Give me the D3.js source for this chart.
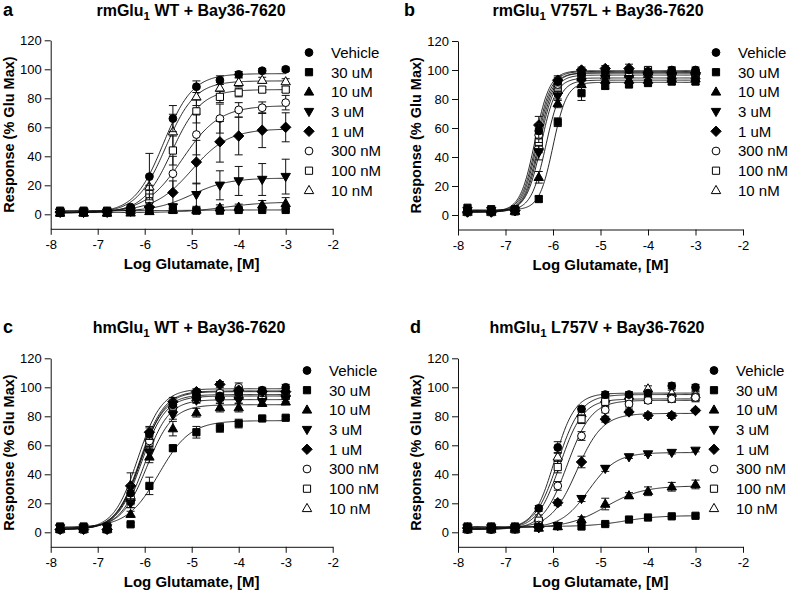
<!DOCTYPE html>
<html><head><meta charset="utf-8">
<script src="https://cdn.jsdelivr.net/npm/d3@7"></script>
<style>
body{margin:0;background:#fff}
svg{display:block}
text{font-family:"Liberation Sans",Arial,Helvetica,sans-serif;fill:#000}
</style>
</head><body>
<svg id="chart" width="788" height="591"></svg>
<script>
// ---------- data ----------
const logConc = [-7.8, -7.3, -6.8, -6.3, -5.9, -5.4, -4.9, -4.4, -4.0, -3.5, -3.0];
const seriesLabels = ["Vehicle", "30 uM", "10 uM", "3 uM", "1 uM", "300 nM", "100 nM", "10 nM"];
const xTicks = [-8, -7, -6, -5, -4, -3, -2];
const yTicks = [0, 20, 40, 60, 80, 100, 120];
const xDomain = [-8, -2];
const yDomain = [-10, 120];
const panelLetters = ["a", "b", "c", "d"];
const titleMain = ["rmGlu", "rmGlu", "hmGlu", "hmGlu"];
const titleSub = ["1", "1", "1", "1"];
const titleRest = [" WT + Bay36-7620", " V757L + Bay36-7620", " WT + Bay36-7620", " L757V + Bay36-7620"];
const xLabel = "Log Glutamate, [M]";
const yLabel = "Response (% Glu Max)";

// panel a: rmGlu1 WT
const aMean = [
  [1, 1, 1.5, 5, 26, 66, 88, 92.5, 96.5, 99, 100],
  [2.5, 2.5, 2.5, 2.5, 2.5, 3, 2.5, 2.5, 3, 3, 3],
  [1, 1, 1, 1, 2, 3, 3, 4.5, 5, 6.5, 7.5],
  [1.5, 1.5, 1.5, 2, 3, 5, 13.5, 20, 23, 24, 26],
  [1.5, 1.5, 1.5, 2.5, 5, 15, 36, 50, 54, 58, 60],
  [1, 1, 1, 2.5, 9, 28, 55, 66, 72, 73.5, 77],
  [1, 1.5, 1, 3, 14, 44, 71, 81, 84, 86, 86],
  [1, 1, 1, 2.5, 19, 57, 81, 87, 91, 92.5, 91.5]
];
const aSem = [
  [0.5, 0.5, 0.5, 1, 16, 9, 4, 3, 2, 1.5, 1.5],
  [0.5, 0.5, 0.5, 0.5, 0.5, 1, 1, 1, 1, 1, 1],
  [0.5, 0.5, 0.5, 0.5, 1, 1, 1, 2, 2, 3, 4],
  [0.5, 0.5, 0.5, 1, 1, 2, 8, 10, 10, 11, 12],
  [0.5, 0.5, 0.5, 1, 3, 8, 15, 14, 13, 12, 10],
  [0.5, 0.5, 0.5, 1, 5, 12, 14, 10, 5, 4, 5],
  [0.5, 0.5, 0.5, 2, 6, 10, 8, 4, 3, 2, 2],
  [0.5, 0.5, 0.5, 2, 8, 12, 6, 4, 3, 2, 2]
];
// fit parameters: bottom, top, logEC50, hill
const aFit = [
  [1, 97, -5.6, 1.4],
  [2.5, 3, -5.0, 1],
  [1.2, 8.5, -4.3, 1],
  [2, 25, -5.0, 1.1],
  [2, 59, -5.0, 1.1],
  [1, 75, -5.2, 1.1],
  [1, 86, -5.42, 1.4],
  [1, 92, -5.55, 1.4]
];

// panel b: rmGlu1 V757L
const bMean = [
  [3, 2.5, 3, 58, 92, 97, 99, 100, 99, 100, 100],
  [5, 4, 4, 11, 64, 84, 89, 90, 91, 92, 92],
  [3, 3, 3, 26, 77, 90, 93, 93, 93, 94, 94],
  [3, 3, 3, 43, 82, 92, 94, 94, 95, 95, 95],
  [2, 2, 3, 62, 93, 100, 101, 101, 98, 98, 98],
  [2, 2, 2.5, 55, 90, 96, 97, 98, 99, 99, 98],
  [2, 2, 2.5, 50, 88, 96, 97, 98, 100, 97, 97],
  [2, 2, 2.5, 48, 86, 95, 96, 97, 97, 96, 96]
];
const bSem = [
  [1, 1, 1, 5, 3, 2, 2, 2, 2, 2, 2],
  [1, 1, 1, 2, 3, 5, 2, 2, 2, 2, 2],
  [1, 1, 1, 4, 3, 2, 2, 2, 2, 2, 2],
  [1, 1, 1, 5, 3, 2, 2, 2, 2, 2, 2],
  [1, 1, 1, 6, 3, 2, 2, 3, 2, 2, 2],
  [1, 1, 1, 5, 3, 2, 2, 2, 2, 3, 2],
  [1, 1, 1, 5, 3, 2, 2, 2, 2, 2, 2],
  [1, 1, 1, 5, 3, 2, 2, 2, 2, 2, 2]
];
const bFit = [
  [2.5, 99, -6.35, 2.8],
  [3.5, 91.5, -6.0, 3],
  [3, 93, -6.15, 2.8],
  [3, 94.5, -6.25, 2.8],
  [2.5, 99.5, -6.38, 2.8],
  [2, 98, -6.33, 2.8],
  [2, 98, -6.3, 2.8],
  [2, 96.5, -6.28, 2.8]
];

// panel c: hmGlu1 WT
const cMean = [
  [2, 2, 2, 27, 68, 88, 95, 94, 96, 98, 100],
  [4, 4, 4, 5.5, 32, 58, 69, 72, 75, 78.5, 79],
  [3, 3, 3, 12.5, 52, 71.5, 82.5, 86, 86, 89, 90],
  [3, 3, 3, 20, 55, 81, 91, 91, 91, 90, 92],
  [2, 2, 2, 32, 69, 90, 97, 102, 98, 97, 97],
  [2, 2, 2, 24, 63, 86, 93, 96, 100, 96, 95],
  [2, 2, 2, 22, 62, 87, 92, 93, 95, 94, 94],
  [2, 2, 2, 25, 65, 88, 93, 94, 94, 95, 96]
];
const cSem = [
  [1, 1, 1, 6, 4, 3, 2, 2, 2, 2, 2],
  [1, 1, 1, 1, 6, 2, 4, 3, 3, 1, 1],
  [1, 1, 1, 2, 4, 5, 3, 3, 3, 2, 2],
  [1, 1, 1, 3, 4, 3, 2, 2, 2, 2, 2],
  [1, 1, 1, 9, 4, 3, 2, 2, 2, 2, 2],
  [1, 1, 1, 5, 4, 3, 2, 2, 3, 2, 2],
  [1, 1, 1, 5, 4, 3, 2, 2, 2, 2, 2],
  [1, 1, 1, 5, 4, 3, 2, 2, 2, 2, 2]
];
const cFit = [
  [2, 97.5, -6.1, 1.7],
  [3.5, 77, -5.7, 1.3],
  [3, 88, -5.95, 1.6],
  [3, 91.5, -6.0, 1.7],
  [2, 99, -6.15, 1.7],
  [2, 97, -6.08, 1.7],
  [2, 94, -6.07, 1.7],
  [2, 95, -6.1, 1.7]
];

// panel d: hmGlu1 L757V
const dMean = [
  [2, 2, 2.5, 16.5, 58.5, 85, 95, 95, 96, 101, 100],
  [4, 4, 4, 3.5, 4.3, 4, 5.7, 8.8, 10.2, 11, 11.4],
  [3, 3, 3, 3, 4, 8.8, 19.5, 25.3, 28.3, 31.4, 33],
  [3, 3, 3, 3, 4.5, 23.2, 44, 52, 54, 55, 56.5],
  [3, 3, 3, 3.5, 20.4, 48.5, 78, 83, 80.5, 80.5, 84],
  [2, 2, 2, 5, 32, 66.4, 84.4, 88.5, 91, 92, 93],
  [2, 2, 2, 8, 45, 78, 90, 92, 92, 92.5, 93],
  [2, 2, 2, 10, 52, 82, 92, 94, 99, 96, 95]
];
const dSem = [
  [1, 1, 1, 2, 4, 2, 2, 2, 2, 2, 2],
  [0.5, 0.5, 0.5, 0.5, 0.5, 0.5, 1, 1, 1, 1, 1],
  [0.5, 0.5, 0.5, 0.5, 1, 2, 4, 2, 3, 3, 3],
  [0.5, 0.5, 0.5, 0.5, 1, 2, 2, 1, 1, 1, 1],
  [0.5, 0.5, 0.5, 1, 2, 4, 2, 2, 2, 2, 1],
  [1, 1, 1, 2, 3, 3, 2, 2, 2, 2, 2],
  [1, 1, 1, 2, 4, 3, 3, 2, 3, 3, 3],
  [1, 1, 1, 2, 3, 3, 2, 2, 2, 2, 2]
];
const dFit = [
  [2.5, 96, -5.97, 2],
  [4, 11.5, -4.5, 1.2],
  [3, 32, -4.9, 1.1],
  [3, 55, -5.25, 1.5],
  [3, 82, -5.5, 1.6],
  [2, 91, -5.7, 1.7],
  [2, 92, -5.85, 1.8],
  [2, 95, -5.9, 1.8]
];

// ---------- styles / layout ----------
const markerShape = ["circle", "square", "triUp", "triDown", "diamond", "circle", "square", "triUp"];
const markerFilled = [true, true, true, true, true, false, false, false];

const panels = [
  {mean: aMean, sem: aSem, fit: aFit, xr: [50.7, 332.7], yr: [228.8, 40.3], letterX: 3, titleX: 191, titleY: 16, legX: 309, legY: 52.5},
  {mean: bMean, sem: bSem, fit: bFit, xr: [458, 743], yr: [229.5, 41], letterX: 404, titleX: 598, titleY: 16, legX: 716, legY: 52.5},
  {mean: cMean, sem: cSem, fit: cFit, xr: [50.7, 332.7], yr: [546.8, 358.3], letterX: 3, titleX: 189, titleY: 333, legX: 307, legY: 370.5},
  {mean: dMean, sem: dSem, fit: dFit, xr: [458, 743], yr: [546.8, 358.3], letterX: 410, titleX: 597, titleY: 333, legX: 714, legY: 370.5}
];
const legendStep = 19.7;

function symPath(shape) {
  const r = 3.9, h = 3.6;
  switch (shape) {
    case "circle": return `M${r},0A${r},${r} 0 1,1 ${-r},0A${r},${r} 0 1,1 ${r},0Z`;
    case "square": return `M${-h},${-h}H${h}V${h}H${-h}Z`;
    case "triUp": return "M0,-5L4.7,3.2L-4.7,3.2Z";
    case "triDown": return "M0,5L4.7,-3.2L-4.7,-3.2Z";
    case "diamond": return "M0,-5.2L5.2,0L0,5.2L-5.2,0Z";
  }
}
function logistic(p, x) {
  return p[0] + (p[1] - p[0]) / (1 + Math.pow(10, (p[2] - x) * p[3]));
}

const svg = d3.select("#chart");
const fitGrid = d3.range(logConc[0], logConc[logConc.length - 1] + 1e-9, 0.02);

panels.forEach((P, pi) => {
  const x = d3.scaleLinear().domain(xDomain).range(P.xr);
  const y = d3.scaleLinear().domain(yDomain).range(P.yr);
  const g = svg.append("g");

  // panel letter and title
  g.append("text").attr("x", P.letterX).attr("y", P.titleY)
    .attr("font-size", 18).attr("font-weight", "bold").text(panelLetters[pi]);
  const t = g.append("text").attr("x", P.titleX).attr("y", P.titleY)
    .attr("text-anchor", "middle").attr("font-size", 16).attr("font-weight", "bold");
  t.append("tspan").text(titleMain[pi]);
  t.append("tspan").attr("font-size", 11.5).attr("dy", 4).text(titleSub[pi]);
  t.append("tspan").attr("dy", -4).text(titleRest[pi]);

  // axes
  const xAxis = d3.axisBottom(x).tickValues(xTicks).tickFormat(d3.format("d"))
    .tickSize(6).tickSizeOuter(0).tickPadding(5);
  const yAxis = d3.axisLeft(y).tickValues(yTicks).tickFormat(d3.format("d"))
    .tickSize(6).tickSizeOuter(0).tickPadding(3);
  const gx = g.append("g").attr("transform", `translate(0,${y(yDomain[0])})`).call(xAxis);
  const gy = g.append("g").attr("transform", `translate(${x(xDomain[0])},0)`).call(yAxis);
  [gx, gy].forEach(a => {
    a.selectAll("path,line").attr("stroke", "#111").attr("stroke-width", 1);
    a.selectAll("text").attr("font-size", 13).attr("fill", "#222")
      .attr("font-family", "'Liberation Sans',Arial,sans-serif");
  });
  gx.selectAll("text").text(d => d < 0 ? "-" + Math.abs(d) : d);

  // axis titles
  g.append("text").attr("x", (P.xr[0] + P.xr[1]) / 2).attr("y", y(yDomain[0]) + 40)
    .attr("text-anchor", "middle").attr("font-size", 15).attr("font-weight", "bold").text(xLabel);
  const ly = (P.yr[0] + P.yr[1]) / 2, lx = x(xDomain[0]) - 37;
  g.append("text").attr("transform", `translate(${lx},${ly}) rotate(-90)`)
    .attr("text-anchor", "middle").attr("font-size", 14.5).attr("font-weight", "bold").text(yLabel);

  // fitted curves
  const line = d3.line().x(d => x(d[0])).y(d => y(d[1]));
  P.fit.forEach(p => {
    g.append("path").datum(fitGrid.map(v => [v, logistic(p, v)]))
      .attr("d", line).attr("fill", "none").attr("stroke", "#111").attr("stroke-width", 0.9);
  });

  // error bars and markers (last series first so Vehicle sits on top)
  const order = d3.range(seriesLabels.length).reverse();
  order.forEach(si => {
    const sg = g.append("g");
    logConc.forEach((lc, i) => {
      const m = P.mean[si][i], e = P.sem[si][i];
      const cx = x(lc), y1 = y(m + e), y2 = y(m - e);
      if (e >= 1) {
        sg.append("line").attr("x1", cx).attr("x2", cx).attr("y1", y1).attr("y2", y2)
          .attr("stroke", "#111").attr("stroke-width", 1);
        [y1, y2].forEach(yy => sg.append("line").attr("x1", cx - 4).attr("x2", cx + 4)
          .attr("y1", yy).attr("y2", yy).attr("stroke", "#111").attr("stroke-width", 1));
      }
      sg.append("path").attr("d", symPath(markerShape[si]))
        .attr("transform", `translate(${cx},${y(m)})`)
        .attr("fill", markerFilled[si] ? "#000" : "#fff")
        .attr("stroke", "#000").attr("stroke-width", 1);
    });
  });

  // legend
  seriesLabels.forEach((lab, si) => {
    const yy = P.legY + si * legendStep;
    g.append("path").attr("d", symPath(markerShape[si]))
      .attr("transform", `translate(${P.legX},${yy})`)
      .attr("fill", markerFilled[si] ? "#000" : "#fff")
      .attr("stroke", "#000").attr("stroke-width", 1);
    g.append("text").attr("x", P.legX + 22).attr("y", yy).attr("dy", "0.36em")
      .attr("font-size", 15).text(lab);
  });
});
</script>
</body></html>
